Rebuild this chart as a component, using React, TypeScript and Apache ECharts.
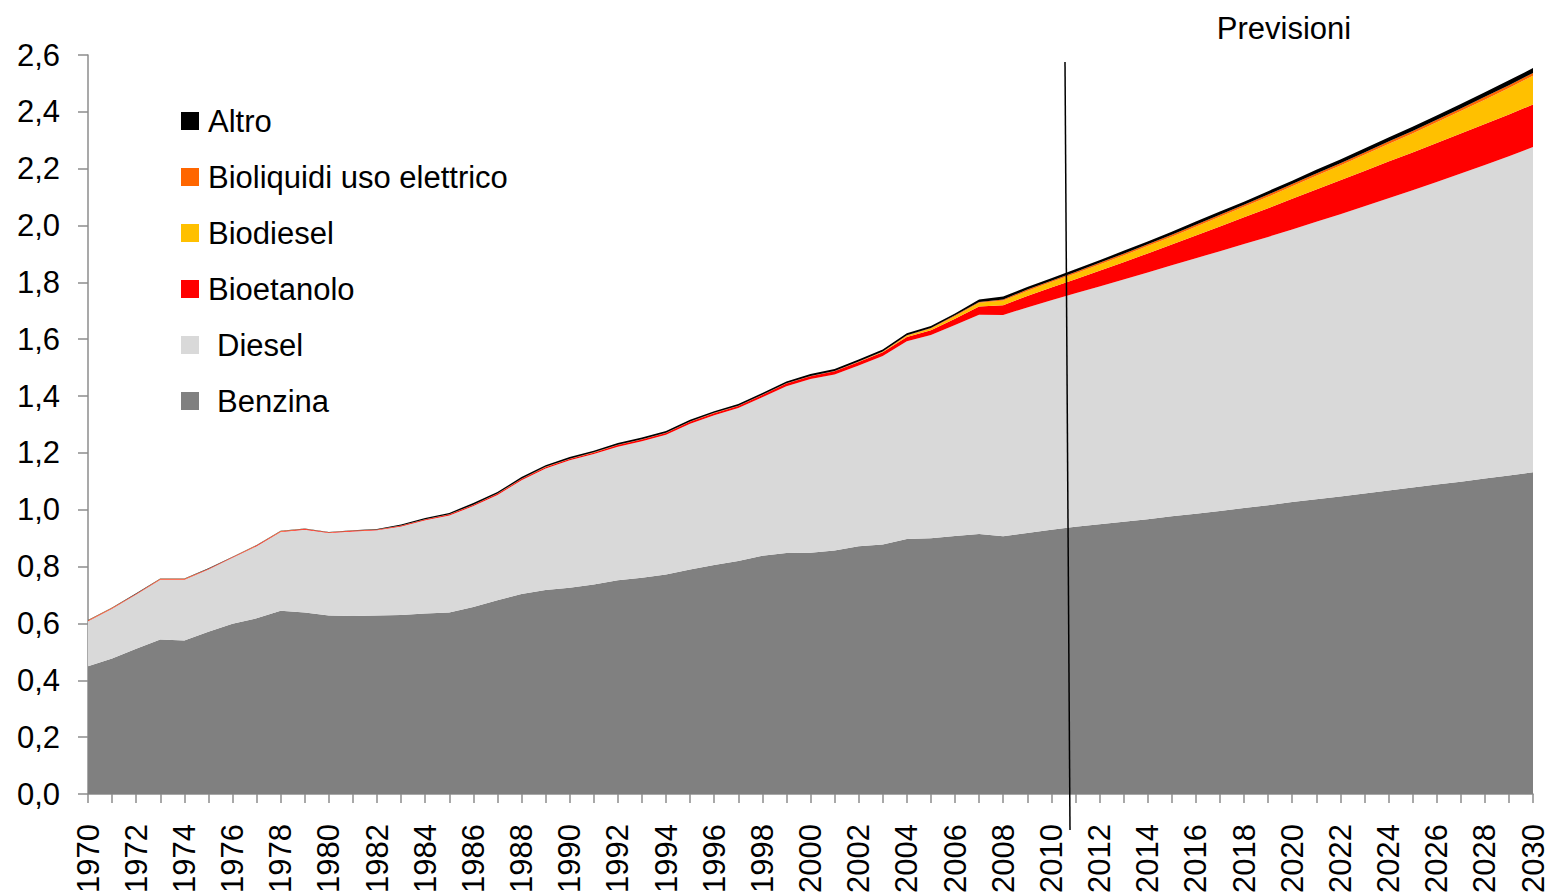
import React, { useEffect, useRef } from "react";
import * as echarts from "echarts";

// Years on the category axis, 1970–2030
const years: string[] = Array.from({ length: 61 }, (_, i) => String(1970 + i));

// Consumption by fuel (stacked, bottom to top)
const benzina = [
  0.450, 0.477, 0.511, 0.544, 0.540, 0.571, 0.599, 0.618, 0.645, 0.639,
  0.628, 0.626, 0.628, 0.630, 0.635, 0.639, 0.658, 0.682, 0.704, 0.718,
  0.726, 0.737, 0.752, 0.761, 0.772, 0.790, 0.806, 0.820, 0.838, 0.848,
  0.849, 0.857, 0.872, 0.878, 0.897, 0.900, 0.908, 0.915, 0.907, 0.918,
  0.930, 0.940, 0.949, 0.958, 0.967, 0.977, 0.986, 0.996, 1.006, 1.016,
  1.027, 1.037, 1.047, 1.057, 1.068, 1.078, 1.089, 1.099, 1.110, 1.121,
  1.132,
];

const diesel = [
  0.158, 0.175, 0.191, 0.210, 0.214, 0.219, 0.232, 0.254, 0.277, 0.291,
  0.290, 0.298, 0.300, 0.311, 0.328, 0.341, 0.355, 0.370, 0.400, 0.427,
  0.448, 0.459, 0.470, 0.480, 0.492, 0.513, 0.527, 0.538, 0.558, 0.587,
  0.611, 0.619, 0.636, 0.663, 0.696, 0.715, 0.742, 0.771, 0.778, 0.794,
  0.807, 0.822, 0.837, 0.852, 0.868, 0.883, 0.899, 0.914, 0.929, 0.944,
  0.959, 0.976, 0.993, 1.011, 1.028, 1.046, 1.064, 1.084, 1.103, 1.123,
  1.144,
];

const bioetanolo = [
  0.002, 0.002, 0.002, 0.002, 0.002, 0.002, 0.002, 0.002, 0.002, 0.002,
  0.002, 0.002, 0.002, 0.003, 0.003, 0.003, 0.004, 0.004, 0.004, 0.005,
  0.005, 0.005, 0.006, 0.006, 0.006, 0.007, 0.007, 0.007, 0.008, 0.009,
  0.010, 0.011, 0.012, 0.013, 0.015, 0.017, 0.022, 0.029, 0.035, 0.040,
  0.045, 0.049, 0.055, 0.061, 0.067, 0.073, 0.080, 0.087, 0.094, 0.101,
  0.108, 0.114, 0.119, 0.124, 0.129, 0.133, 0.137, 0.141, 0.144, 0.147,
  0.150,
];

const biodiesel = [
  0, 0, 0, 0, 0, 0, 0, 0, 0, 0,
  0, 0, 0, 0, 0, 0, 0, 0, 0, 0,
  0, 0, 0, 0, 0, 0, 0, 0, 0, 0,
  0, 0, 0.001, 0.002, 0.004, 0.006, 0.009, 0.013, 0.016, 0.018,
  0.019, 0.020, 0.022, 0.024, 0.026, 0.028, 0.031, 0.034, 0.037, 0.040,
  0.044, 0.048, 0.052, 0.057, 0.062, 0.067, 0.073, 0.079, 0.086, 0.093,
  0.101,
];

const bioliquidi = [
  0.001, 0.001, 0.001, 0.001, 0.001, 0.001, 0.001, 0.001, 0.001, 0.001,
  0.001, 0.001, 0.001, 0.001, 0.001, 0.001, 0.001, 0.001, 0.001, 0.001,
  0.001, 0.001, 0.001, 0.001, 0.001, 0.001, 0.001, 0.001, 0.001, 0.001,
  0.001, 0.001, 0.001, 0.001, 0.002, 0.002, 0.003, 0.003, 0.004, 0.005,
  0.005, 0.006, 0.006, 0.006, 0.006, 0.007, 0.007, 0.007, 0.007, 0.008,
  0.008, 0.008, 0.008, 0.008, 0.009, 0.009, 0.009, 0.009, 0.010, 0.010,
  0.010,
];

const altro = [
  0.001, 0.001, 0.001, 0.001, 0.001, 0.001, 0.001, 0.001, 0.001, 0.001,
  0.001, 0.001, 0.001, 0.003, 0.004, 0.005, 0.006, 0.006, 0.006, 0.006,
  0.006, 0.006, 0.006, 0.006, 0.006, 0.006, 0.006, 0.006, 0.006, 0.006,
  0.007, 0.007, 0.007, 0.007, 0.007, 0.007, 0.007, 0.009, 0.010, 0.009,
  0.009, 0.009, 0.009, 0.010, 0.010, 0.010, 0.011, 0.011, 0.011, 0.012,
  0.012, 0.013, 0.013, 0.014, 0.014, 0.015, 0.015, 0.016, 0.016, 0.017,
  0.017,
];

const FONT = "'Liberation Sans', Arial, sans-serif";

const layers = [
  { name: "Benzina", data: benzina, color: "#808080" },
  { name: "Diesel", data: diesel, color: "#D9D9D9" },
  { name: "Bioetanolo", data: bioetanolo, color: "#FF0000" },
  { name: "Biodiesel", data: biodiesel, color: "#FFC000" },
  { name: "Bioliquidi uso elettrico", data: bioliquidi, color: "#FF6600" },
  { name: "Altro", data: altro, color: "#000000" },
];

const legendOrder = [
  "Altro",
  "Bioliquidi uso elettrico",
  "Biodiesel",
  "Bioetanolo",
  "Diesel",
  "Benzina",
];

export default function App() {
  const ref = useRef<HTMLDivElement>(null);

  useEffect(() => {
    document.body.style.margin = "0";
    if (!ref.current) return;
    const chart = echarts.init(ref.current, undefined, { renderer: "svg" });

    chart.setOption({
      animation: false,
      backgroundColor: "#ffffff",
      textStyle: { fontFamily: FONT },
      grid: { left: 88, right: 16, top: 55, bottom: 100, containLabel: false },
      legend: {
        data: legendOrder,
        orient: "vertical",
        left: 176,
        top: 98,
        itemWidth: 18,
        itemHeight: 18,
        itemGap: 20,
        icon: "rect",
        selectedMode: false,
        formatter: (name: string) =>
          name === "Diesel" || name === "Benzina" ? `{pad|${name}}` : name,
        textStyle: {
          fontFamily: FONT,
          fontSize: 31,
          color: "#000",
          lineHeight: 36,
          padding: [0, 0, 0, 4],
          rich: {
            pad: {
              fontFamily: FONT,
              fontSize: 31,
              color: "#000",
              lineHeight: 36,
              padding: [0, 0, 0, 9],
            },
          },
        },
      },
      xAxis: {
        type: "category",
        data: years,
        boundaryGap: false,
        axisLine: { show: true, lineStyle: { color: "#8c8c8c", width: 1.5 } },
        axisTick: {
          show: true,
          interval: 0,
          length: 9,
          lineStyle: { color: "#8c8c8c", width: 1.5 },
        },
        axisLabel: {
          interval: 1,
          rotate: 90,
          margin: 30,
          fontSize: 31,
          fontFamily: FONT,
          color: "#000",
        },
        splitLine: { show: false },
      },
      yAxis: {
        type: "value",
        min: 0,
        max: 2.6,
        interval: 0.2,
        axisLine: { show: true, lineStyle: { color: "#8c8c8c", width: 1.5 } },
        axisTick: { show: true, length: 10, lineStyle: { color: "#8c8c8c", width: 1.5 } },
        axisLabel: {
          margin: 28,
          fontSize: 31,
          fontFamily: FONT,
          color: "#000",
          formatter: (v: number) => v.toFixed(1).replace(".", ","),
        },
        splitLine: { show: false },
      },
      series: layers.map((l) => ({
        name: l.name,
        type: "line",
        stack: "total",
        data: l.data,
        symbol: "none",
        showSymbol: false,
        lineStyle: { width: 0, color: l.color },
        itemStyle: { color: l.color },
        areaStyle: { color: l.color, opacity: 1 },
        emphasis: { disabled: true },
      })),
      graphic: [
        {
          type: "line",
          shape: { x1: 1065, y1: 62, x2: 1070, y2: 830 },
          style: { stroke: "#000", lineWidth: 1.5 },
          z: 100,
        },
        {
          type: "text",
          x: 1284,
          y: 28,
          style: {
            text: "Previsioni",
            fontFamily: FONT,
            fontSize: 31,
            fill: "#000",
            align: "center",
            verticalAlign: "middle",
          },
          z: 100,
        },
      ],
    });

    return () => chart.dispose();
  }, []);

  return (
    <div
      ref={ref}
      style={{ position: "absolute", left: 0, top: 0, width: 1549, height: 896, overflow: "hidden" }}
    />
  );
}
